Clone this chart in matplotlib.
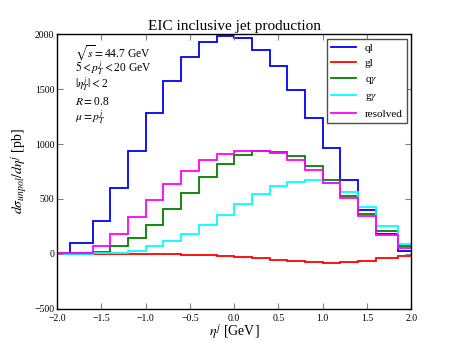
import matplotlib.pyplot as plt
import numpy as np

plt.switch_backend("agg")
plt.rcParams["font.family"] = ["Liberation Serif", "DejaVu Serif"]
plt.rcParams["mathtext.fontset"] = "stix"

# bin edges in eta^j
edges = [-2.0, -1.85, -1.6, -1.4, -1.2, -1.0, -0.8, -0.6, -0.4, -0.2, 0.0,
         0.2, 0.4, 0.6, 0.8, 1.0, 1.2, 1.4, 1.6, 1.85, 2.0]

ql = [12, 100, 300, 600, 940, 1280, 1575, 1790, 1930, 1985,
      1962, 1855, 1712, 1497, 1240, 963, 675, 403, 185, 30]
gl = [0, -1, -2, -3, -3, -4, -5, -8, -12, -19,
      -28, -40, -54, -66, -77, -81, -76, -64, -42, -19]
qgamma = [3, 4, 21, 70, 148, 267, 409, 558, 698, 815,
          903, 936, 930, 889, 803, 673, 527, 364, 206, 71]
ggamma = [1, 2, 3, 8, 30, 68, 118, 182, 264, 357,
          455, 545, 615, 658, 673, 648, 561, 424, 254, 90]
resolved = [5, 12, 73, 185, 336, 491, 639, 758, 851, 909,
            939, 939, 915, 853, 767, 648, 509, 342, 176, 52]

labels = ["ql", "gl", r"q$\gamma$", r"g$\gamma$", "resolved"]
colors = ["blue", "red", "green", "cyan", "magenta"]
series = [ql, gl, qgamma, ggamma, resolved]

fig = plt.figure(figsize=(4.57, 3.43), dpi=100)
ax = fig.add_axes([0.125, 0.1, 0.775, 0.8])

for vals, lab, col in zip(series, labels, colors):
    ax.stairs(vals, edges, color=col, linewidth=1.3, label=lab, baseline=None)

ax.set_xlim(-2.0, 2.0)
ax.set_ylim(-500, 2000)
xt = np.arange(-2.0, 2.01, 0.5)
ax.set_xticks(xt)
ax.set_xticklabels([f"{t:.1f}".replace("-", "\u2212") for t in xt])
ax.set_yticks([-500, 0, 500, 1000, 1500, 2000])
ax.tick_params(direction="in", top=True, right=True, labelsize=7, length=4,
               color="0.5")
ax.tick_params(axis="x", pad=3.5)
ax.tick_params(axis="y", pad=2)
for s in ax.spines.values():
    s.set_linewidth(1.0)

ax.set_title("EIC inclusive jet production", fontsize=11, pad=3)
ax.set_xlabel(r"$\eta^j$ [GeV]", fontsize=10, labelpad=0)
ax.set_ylabel(r"$d\sigma_{unpol}/d\eta^j$ [pb]", fontsize=10, labelpad=3)

info = [r"$\sqrt{s}=$44.7 GeV", r"$5<p_T^j<$20 GeV", r"$|\eta_T^j|<$2",
        r"$R=$0.8", r"$\mu=p_T^j$"]
for i, t in enumerate(info):
    ax.text(0.05, 0.935 - i * 0.06, t, transform=ax.transAxes,
            fontsize=8.3, va="center")

ax.legend(loc="upper right", fontsize=8, fancybox=False, edgecolor="0.3",
          framealpha=1, handlelength=2.2, borderaxespad=0.4)

fig.savefig("out.png", dpi=100)
